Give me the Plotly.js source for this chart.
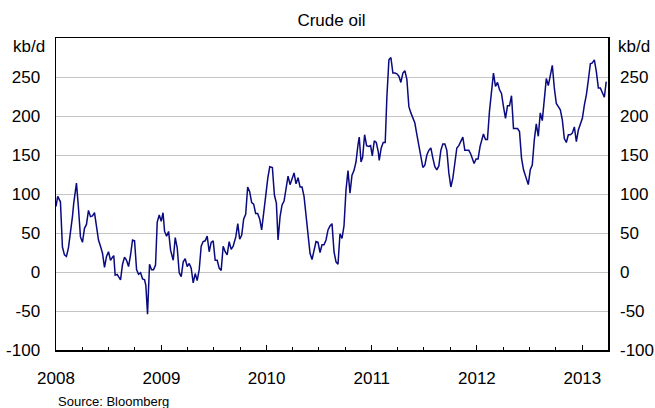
<!DOCTYPE html>
<html>
<head>
<meta charset="utf-8">
<script src="https://cdn.plot.ly/plotly-3.0.1.min.js"></script>
<style>html,body{margin:0;padding:0;background:#fff}#chart{width:655px;height:408px}</style>
</head>
<body>
<div id="chart"></div>
<script>
// Dates as decimal years
const decimalYears = [
2008.000,2008.016,2008.042,2008.061,2008.080,2008.099,2008.118,2008.137,2008.156,2008.168,
2008.194,2008.213,2008.232,2008.251,2008.270,2008.289,2008.308,2008.327,2008.346,2008.365,
2008.384,2008.403,2008.422,2008.441,2008.460,2008.479,2008.498,2008.517,2008.536,2008.548,
2008.561,2008.580,2008.593,2008.612,2008.631,2008.650,2008.669,2008.688,2008.707,2008.726,
2008.745,2008.764,2008.783,2008.802,2008.821,2008.840,2008.852,2008.868,2008.887,2008.906,
2008.925,2008.944,2008.960,2008.979,2008.998,2009.015,2009.030,2009.049,2009.068,2009.087,
2009.112,2009.131,2009.150,2009.169,2009.188,2009.207,2009.226,2009.245,2009.264,2009.283,
2009.302,2009.321,2009.340,2009.359,2009.378,2009.397,2009.416,2009.435,2009.454,2009.473,
2009.492,2009.511,2009.530,2009.549,2009.568,2009.587,2009.606,2009.625,2009.644,2009.663,
2009.682,2009.707,2009.726,2009.744,2009.763,2009.782,2009.801,2009.820,2009.839,2009.858,
2009.877,2009.896,2009.915,2009.934,2009.953,2009.972,2009.991,2010.011,2010.030,2010.055,
2010.074,2010.093,2010.109,2010.128,2010.147,2010.166,2010.185,2010.204,2010.223,2010.242,
2010.261,2010.280,2010.299,2010.318,2010.337,2010.356,2010.375,2010.394,2010.413,2010.432,
2010.451,2010.470,2010.489,2010.508,2010.527,2010.546,2010.565,2010.584,2010.603,2010.622,
2010.641,2010.660,2010.679,2010.698,2010.717,2010.736,2010.755,2010.774,2010.793,2010.812,
2010.831,2010.850,2010.869,2010.881,2010.898,2010.913,2010.932,2010.951,2010.970,2010.989,
2011.005,2011.024,2011.043,2011.062,2011.071,2011.090,2011.109,2011.128,2011.144,2011.163,
2011.182,2011.201,2011.220,2011.239,2011.258,2011.277,2011.296,2011.315,2011.334,2011.353,
2011.372,2011.391,2011.410,2011.429,2011.448,2011.467,2011.486,2011.505,2011.524,2011.543,
2011.562,2011.581,2011.600,2011.619,2011.638,2011.657,2011.676,2011.695,2011.714,2011.733,
2011.752,2011.771,2011.790,2011.809,2011.828,2011.847,2011.866,2011.885,2011.904,2011.923,
2011.942,2011.954,2011.973,2011.992,2012.011,2012.030,2012.049,2012.062,2012.081,2012.100,
2012.119,2012.138,2012.157,2012.176,2012.195,2012.214,2012.233,2012.252,2012.271,2012.290,
2012.309,2012.328,2012.347,2012.366,2012.385,2012.404,2012.423,2012.442,2012.461,2012.487,
2012.506,2012.525,2012.544,2012.563,2012.582,2012.601,2012.620,2012.639,2012.658,2012.677,
2012.696,2012.715,2012.734,2012.753,2012.772,2012.791,2012.810,2012.829,2012.848,2012.867,
2012.886,2012.905,2012.924,2012.943,2012.962,2012.981,2013.000,2013.019,2013.038,2013.057,
2013.076,2013.095,2013.114,2013.133,2013.152,2013.171,2013.190,2013.209,2013.227
];
// Crude oil, kb/d
const crudeOil = [
84,97,90,32,22,20,31,50,71,88,
114,82,45,38,56,61,79,71,72,76,
56,41,33,24,6,20,26,15,19,21,
-4,-3,-6,-10,10,19,15,7,22,41,
40,3,-3,-1,-9,-10,-17,-54,10,3,
3,9,64,73,65,76,52,46,52,28,
15,44,31,-1,-6,13,17,7,11,5,
-14,-2,-11,3,33,39,40,46,26,38,
40,15,15,5,2,33,26,22,39,29,
33,45,62,42,47,68,74,109,103,89,
87,75,75,68,54,73,97,120,135,134,
99,88,41,71,86,91,110,123,112,120,
127,113,121,109,109,97,75,45,24,16,
30,39,38,25,35,35,41,54,59,62,
26,13,10,49,43,59,105,130,101,124,
130,141,163,173,141,147,176,162,161,162,
149,168,166,154,143,159,166,166,225,272,
275,255,255,254,251,243,255,258,247,212,
204,198,191,176,163,148,134,137,150,156,
159,146,135,131,136,156,164,164,156,127,
109,120,139,159,162,167,173,156,156,156,
151,147,139,145,145,161,171,177,170,170,
206,231,255,238,243,234,229,212,197,213,
213,226,184,184,184,180,146,131,122,112,
131,137,169,190,174,204,194,223,248,239,
250,265,236,216,212,208,195,171,166,176,
176,178,186,167,182,191,197,214,227,246,
267,268,272,257,236,236,230,224,244
];
const yTickVals = [-100,-50,0,50,100,150,200,250];
const yTickText = ['-100','-50','0','50','100','150','200','250'];
const yearTicks = ['2008','2009','2010','2011','2012','2013'];

function decToDate(t){
  const y = Math.floor(t);
  const a = Date.UTC(y,0,1), b = Date.UTC(y+1,0,1);
  const d = new Date(a + (t - y) * (b - a));
  return d.toISOString().slice(0,16).replace('T',' ');
}
const dates = decimalYears.map(decToDate);

const fam = '"Liberation Sans", Arial, sans-serif';
const font = {family: fam, size: 17, color: '#000'};

const traces = [
  {x: dates, y: crudeOil, type: 'scatter', mode: 'lines',
   line: {color: '#0a0a80', width: 1.5}, hoverinfo: 'skip', showlegend: false},
  {x: dates, y: crudeOil, type: 'scatter', mode: 'lines', yaxis: 'y2',
   line: {color: 'rgba(0,0,0,0)', width: 0}, hoverinfo: 'skip', showlegend: false}
];

const layout = {
  width: 655, height: 408,
  margin: {l: 56, r: 47, t: 38, b: 58},
  paper_bgcolor: '#fff', plot_bgcolor: '#fff',
  font: font,
  showlegend: false,
  title: {text: 'Crude oil', font: font, x: 0.506, xanchor: 'center', y: 0.951, yanchor: 'middle'},
  xaxis: {
    type: 'date',
    range: ['2008-01-01', '2013-03-31'],
    tickvals: yearTicks.map(y => y + '-01-01'),
    ticktext: yearTicks,
    ticks: 'inside', ticklen: 5, tickwidth: 1, tickcolor: '#000',
    minor: {dtick: 'M3', tick0: '2008-01-01', ticks: 'inside', ticklen: 3, tickwidth: 1, tickcolor: '#000', showgrid: false},
    showgrid: false, zeroline: false,
    showline: true, linecolor: '#000', linewidth: 1.5, mirror: true,
    tickfont: font, ticklabelstandoff: 12, fixedrange: true
  },
  yaxis: {
    range: [-100, 300],
    tickvals: yTickVals, ticktext: yTickText,
    ticks: '', showgrid: true, gridcolor: '#c4c4c4', gridwidth: 1,
    zeroline: false,
    showline: true, linecolor: '#000', linewidth: 1.5, mirror: true,
    tickfont: font, ticklabelstandoff: 11, fixedrange: true
  },
  yaxis2: {
    range: [-100, 300], overlaying: 'y', side: 'right',
    tickvals: yTickVals, ticktext: yTickText,
    ticks: '', showgrid: false, zeroline: false, showline: false,
    tickfont: font, ticklabelstandoff: 11, fixedrange: true
  },
  annotations: [
    {text: 'kb/d', xref: 'paper', yref: 'paper', x: -0.049, y: 0.974, xanchor: 'center', yanchor: 'middle', showarrow: false, font: font},
    {text: 'kb/d', xref: 'paper', yref: 'paper', x: 1.048, y: 0.974, xanchor: 'center', yanchor: 'middle', showarrow: false, font: font},
    {text: 'Source: Bloomberg', xref: 'paper', yref: 'paper', x: 0, y: -0.166, xanchor: 'left', yanchor: 'middle', showarrow: false,
     font: {family: fam, size: 13, color: '#000'}}
  ]
};

Plotly.newPlot('chart', traces, layout, {displayModeBar: false, staticPlot: true});
</script>
</body>
</html>
